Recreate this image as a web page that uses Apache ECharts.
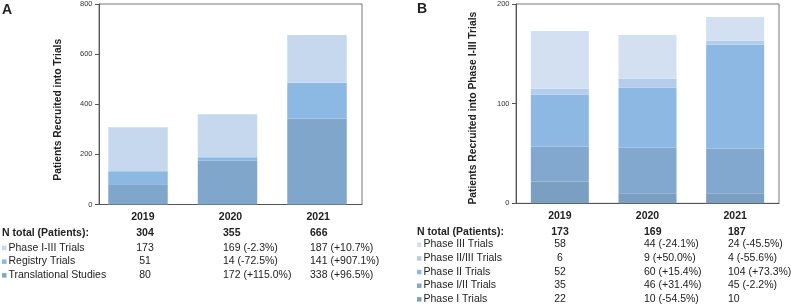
<!DOCTYPE html>
<html>
<head>
<meta charset="utf-8">
<script src="https://cdn.jsdelivr.net/npm/echarts@6/dist/echarts.min.js"></script>
<style>
  html, body { margin: 0; padding: 0; background: #fff; }
  #chart { width: 791px; height: 305px; }
</style>
</head>
<body>
<div id="chart"></div>
<script>
// panel A: patients recruited into trials
const years = ['2019', '2020', '2021'];
const aTranslational = [80, 172, 338];
const aRegistry = [51, 14, 141];
const aPhaseAll = [173, 169, 187];
const aTranslationalChange = ['', '(+115.0%)', '(+96.5%)'];
const aRegistryChange = ['', '(-72.5%)', '(+907.1%)'];
const aPhaseAllChange = ['', '(-2.3%)', '(+10.7%)'];
const aTicks = [0, 200, 400, 600, 800];

// panel B: patients recruited into phase I-III trials
const bPhaseI = [22, 10, 10];
const bPhaseI_II = [35, 46, 45];
const bPhaseII = [52, 60, 104];
const bPhaseII_III = [6, 9, 4];
const bPhaseIII = [58, 44, 24];
const bPhaseIChange = ['', '(-54.5%)', ''];
const bPhaseI_IIChange = ['', '(+31.4%)', '(-2.2%)'];
const bPhaseIIChange = ['', '(+15.4%)', '(+73.3%)'];
const bPhaseII_IIIChange = ['', '(+50.0%)', '(-55.6%)'];
const bPhaseIIIChange = ['', '(-24.1%)', '(-45.5%)'];
const bTicks = [0, 100, 200];

const FONT = '"Liberation Sans", Arial, sans-serif';
const TXT = '#222';

const aSeries = [
  { name: 'Translational Studies', data: aTranslational, change: aTranslationalChange, color: '#80a6cb' },
  { name: 'Registry Trials', data: aRegistry, change: aRegistryChange, color: '#8cb9e3' },
  { name: 'Phase I-III Trials', data: aPhaseAll, change: aPhaseAllChange, color: '#c6d8ee' }
];
const bSeries = [
  { name: 'Phase I Trials', data: bPhaseI, change: bPhaseIChange, color: '#7b9fc1' },
  { name: 'Phase I/II Trials', data: bPhaseI_II, change: bPhaseI_IIChange, color: '#82a8d0' },
  { name: 'Phase II Trials', data: bPhaseII, change: bPhaseIIChange, color: '#8cb8e3' },
  { name: 'Phase II/III Trials', data: bPhaseII_III, change: bPhaseII_IIIChange, color: '#b5cdec' },
  { name: 'Phase III Trials', data: bPhaseIII, change: bPhaseIIIChange, color: '#d3e0f1' }
];

const sumOf = (list) => years.map((y, i) => list.reduce((s, it) => s + it.data[i], 0));

// table under a panel
const buildTable = (list, lay) => {
  const els = [];
  const txt = (text, x, y, align, bold) => els.push({
    type: 'text',
    style: {
      text, x, y, fill: TXT,
      font: (bold ? 'bold ' : '') + '10.5px ' + FONT,
      textAlign: align, textVerticalAlign: 'middle', verticalAlign: 'middle'
    }
  });
  const totals = sumOf(list);
  txt('N total (Patients):', lay.labelX, lay.totalY, 'left', true);
  totals.forEach((t, i) => txt(String(t), lay.cols[i], lay.totalY, lay.aligns[i], true));
  list.slice().reverse().forEach((s, r) => {
    const y = lay.rowY + r * lay.step;
    els.push({
      type: 'rect',
      shape: { x: lay.labelX, y: y - 2, width: 4.5, height: 4.5 },
      style: { fill: s.color }
    });
    txt(s.name, lay.labelX + 6.5, y, 'left', false);
    s.data.forEach((v, i) => {
      const str = s.change[i] ? v + ' ' + s.change[i] : String(v);
      txt(str, lay.cols[i], y, lay.aligns[i], false);
    });
  });
  return els;
};

const yAxisBase = (ticks, name, gap, pad) => ({
  type: 'value',
  min: ticks[0],
  max: ticks[ticks.length - 1],
  interval: ticks[1] - ticks[0],
  name,
  nameLocation: 'middle',
  nameGap: gap,
  nameTextStyle: { fontFamily: FONT, fontWeight: 'bold', fontSize: 10.3, color: TXT, padding: pad },
  axisLine: { show: true, lineStyle: { color: '#555', width: 1 } },
  axisTick: { show: true, length: 4, lineStyle: { color: '#555' } },
  axisLabel: { fontFamily: FONT, fontSize: 7.5, color: '#333', margin: 6.5 },
  splitLine: { show: false }
});

const xAxisBase = (idx) => ({
  type: 'category',
  gridIndex: idx,
  data: years,
  axisLine: { lineStyle: { color: '#555', width: 1 } },
  axisTick: { show: false },
  axisLabel: { fontFamily: FONT, fontSize: 10.5, fontWeight: 'bold', color: TXT, margin: 7 }
});

const makeSeries = (list, idx, width) => list.map((s) => ({
  name: s.name,
  type: 'bar',
  stack: 'p' + idx,
  xAxisIndex: idx,
  yAxisIndex: idx,
  barWidth: width,
  itemStyle: { color: s.color },
  data: s.data
}));

const myChart = echarts.init(document.getElementById('chart'), null, { renderer: 'canvas' });
const option = {
  animation: false,
  backgroundColor: '#fff',
  grid: [
    { left: 99, top: 1, width: 263, bottom: 100.5, show: true, borderColor: '#777', borderWidth: 1 },
    { left: 516, top: 1, width: 263, bottom: 101.7, show: true, borderColor: '#777', borderWidth: 1 },
    // bars of panel A sit a little left of the frame's centre in the original
    { left: 93.25, top: 1, width: 268.5, bottom: 100.5 }
  ],
  xAxis: [
    xAxisBase(0),
    xAxisBase(1),
    { type: 'category', gridIndex: 2, data: years, show: false }
  ],
  yAxis: [
    Object.assign(yAxisBase(aTicks, 'Patients Recruited into Trials', 36, [0, 11, 0, 0]), { gridIndex: 0 }),
    Object.assign(yAxisBase(bTicks, 'Patients Recruited into Phase I-III Trials', 38, [0, 9, 0, 0]), { gridIndex: 1 }),
    { type: 'value', gridIndex: 2, min: aTicks[0], max: aTicks[aTicks.length - 1], show: false, splitLine: { show: false } }
  ],
  series: makeSeries(aSeries, 2, 59.5).concat(makeSeries(bSeries, 1, 58)),
  graphic: [
    { type: 'text', style: { text: 'A', x: 2, y: 10, font: 'bold 14px ' + FONT, fill: TXT, textVerticalAlign: 'middle', verticalAlign: 'middle' } },
    { type: 'text', style: { text: 'B', x: 417, y: 9, font: 'bold 14px ' + FONT, fill: TXT, textVerticalAlign: 'middle', verticalAlign: 'middle' } }
  ]
    .concat(buildTable(aSeries, {
      labelX: 2, totalY: 233.3, rowY: 247.7, step: 13.7,
      cols: [145, 223, 310], aligns: ['center', 'left', 'left']
    }))
    .concat(buildTable(bSeries, {
      labelX: 417, totalY: 231.7, rowY: 244.5, step: 13.65,
      cols: [560, 644, 728], aligns: ['center', 'left', 'left']
    }))
};
myChart.setOption(option);
</script>
</body>
</html>
